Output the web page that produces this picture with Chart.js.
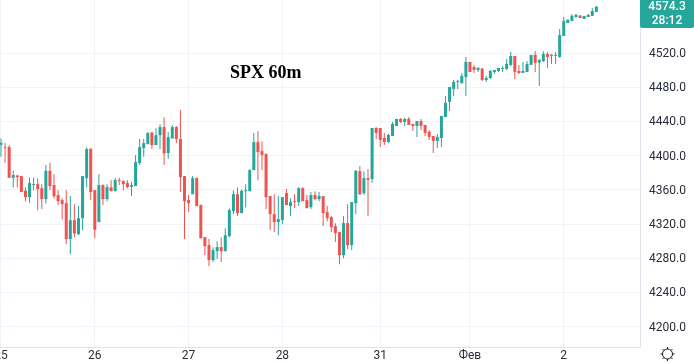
<!DOCTYPE html>
<html>
<head>
<meta charset="utf-8">
<title>SPX 60m</title>
<script src="https://cdn.jsdelivr.net/npm/chart.js@4"></script>
<style>
  html, body { margin: 0; padding: 0; background: #fff; }
  canvas { display: block; }
</style>
</head>
<body>
<canvas id="chart" width="694" height="363"></canvas>
<script>
const opens = [4412.7,4410,4410,4374.1,4376.9,4376.1,4358.9,4351.5,4365.6,4366.7,4362,4349.2,4382.3,4365.6,4353.9,4348,4344.5,4302.4,4324.6,4308.2,4326.9,4373.7,4408.1,4359.7,4322.3,4365.6,4349.2,4362.8,4358.5,4371.4,4370.2,4367.9,4363.6,4364.4,4391.3,4408.8,4413.5,4427.2,4412.4,4424,4433.4,4403,4420.2,4433.4,4419.4,4376.1,4348,4355,4373.7,4342.2,4304.7,4295.4,4277.8,4288.3,4293,4288.3,4305.9,4335.1,4355,4332.8,4358.5,4358.5,4383.1,4415.9,4405.3,4401.8,4352.7,4331.6,4322.3,4324.6,4356.2,4341,4346.8,4345.7,4362,4348,4339.8,4353.9,4349.2,4352.7,4334,4328.1,4317.6,4310.6,4283.7,4321.1,4295.4,4344.5,4381.9,4356.2,4373.7,4372.7,4432.4,4432.4,4420.7,4416,4423,4434.8,4443,4439.5,4443,4437.1,4434.8,4440.6,4436,4427.8,4423,4417.2,4420.7,4445.3,4462.9,4478,4486.3,4485,4492.1,4509.7,4503.8,4500.3,4501.9,4488.6,4490.9,4498,4499.1,4501.5,4501.5,4506.2,4516.7,4499.1,4496.8,4498,4506.2,4517.9,4508.9,4510.8,4519,4516.7,4517.9,4515.5,4540.1,4555.3,4557.6,4562.3,4563.9,4560,4562.3,4563.5,4568.2];
const highs = [4420.1,4415.1,4412.4,4382.3,4377.3,4376.1,4362.8,4374.5,4374.5,4373.4,4366.7,4389,4391.7,4378.4,4359.7,4350,4359.7,4352.7,4343.3,4341,4376.1,4410,4408.8,4359.7,4378.4,4366.7,4366.7,4371.4,4374.1,4374.1,4371.4,4371.4,4369.1,4400.7,4419.4,4419.4,4427.6,4427.2,4432.2,4436.9,4444.7,4427.6,4435.8,4434.6,4453.3,4376.1,4353.9,4376.1,4374.9,4343.3,4304.7,4302.4,4293,4300,4304.7,4315.2,4338.6,4359.7,4363.2,4360.5,4366.7,4384.3,4426.4,4428.7,4417,4403,4352.7,4355,4352.7,4351.5,4360.9,4350.3,4355,4363.2,4363.2,4353.9,4357.4,4358.5,4357.4,4352.7,4341,4329.3,4321.1,4310.6,4329.3,4343.3,4345.7,4383.1,4387.8,4381.9,4384.3,4432.4,4433.6,4432.4,4426.6,4425.4,4439.5,4443,4444.1,4444.1,4445.3,4437.1,4440.6,4443,4436,4430.1,4423,4425.4,4446.5,4469.9,4480.4,4488.6,4488.6,4496.8,4515.5,4509.7,4506.1,4503.8,4502.6,4493.3,4500.3,4500.3,4502.6,4505,4513.2,4521.4,4516.7,4506.2,4509.7,4510.8,4517.9,4522.5,4513.2,4522.1,4521.4,4519,4521.4,4548.3,4562.3,4560,4565.8,4565.8,4564.7,4563.5,4565.8,4572.8,4575.2];
const lows = [4398.7,4391.7,4374.1,4362.8,4362.8,4357.4,4346.8,4344.9,4359.7,4336.3,4337.5,4344.1,4359.7,4350,4342.2,4325.4,4296.5,4284.8,4304.7,4307,4312.9,4362.8,4348,4303.5,4322.3,4342.2,4346.8,4358.5,4358.5,4365.6,4359.7,4362,4352.7,4364.4,4389,4398.7,4413.5,4407.7,4412.4,4407.7,4389,4396,4420.2,4414.7,4357.4,4302.4,4334,4355,4341,4303.5,4283.7,4270.8,4275.5,4279,4275.5,4288.3,4304.7,4331.6,4329.3,4332.8,4339.4,4358.5,4383.1,4371.4,4383.1,4337.5,4312.9,4310.6,4307,4319.9,4342.2,4329.3,4338.6,4341,4346.8,4338.6,4337.5,4348,4346.8,4317.6,4323.4,4310.6,4298.9,4273.1,4280.1,4290.7,4289.5,4331.6,4353.9,4353.9,4329.3,4368.4,4419.6,4410.2,4412.6,4414.9,4423,4434.8,4438.3,4434.8,4436,4428.9,4421.9,4430.1,4423,4418.4,4403.2,4409,4410.2,4445.3,4452.3,4469.9,4478,4483.9,4469.9,4498,4496.8,4498,4487.4,4486.3,4489.8,4495.6,4498,4498,4500.3,4505,4489.8,4495.6,4496.8,4498,4506.2,4498,4481.6,4509.7,4502.6,4507.3,4507.3,4514.3,4540.1,4555.3,4557.6,4561.1,4561.1,4560,4562.3,4563.5,4568.2];
const closes = [4415.1,4409.2,4374.1,4377.3,4374.9,4357.4,4351.5,4367.9,4366.7,4360.9,4349.2,4382.3,4364.4,4352.7,4346.8,4343.3,4302.4,4324.6,4309,4326.9,4376.1,4407.7,4357.4,4313.3,4365.6,4349.2,4363.2,4358.5,4371.4,4370.2,4366.7,4363.2,4365.6,4392.5,4410,4414.7,4426.4,4412.4,4424,4433.4,4402.6,4421.7,4433.4,4419.4,4374.9,4346.8,4344.5,4373.7,4341,4303.5,4294.2,4277.8,4289.5,4293,4288.3,4307,4336.3,4355,4332.8,4358.9,4359.7,4383.1,4415.9,4404.2,4400.7,4351.5,4331.6,4322.3,4325.8,4351.5,4342.2,4345.7,4345.7,4362,4346.8,4338.6,4353.9,4349.2,4352.7,4332.8,4326.9,4316.4,4309.4,4283.7,4321.1,4295.4,4345.7,4382.3,4355,4373.7,4371.8,4432.4,4426.6,4418.4,4416,4424.2,4437.1,4443,4439.5,4443,4436,4434.8,4440.6,4434.8,4426.6,4421.9,4417.2,4421.9,4446.5,4461.7,4480.4,4486.3,4487.4,4493.3,4509.7,4498,4500.3,4502.6,4488.6,4490.9,4499.1,4500.3,4502.6,4502.6,4507.3,4516.7,4498,4496.8,4499.1,4507.3,4517.9,4508.5,4512,4519,4515.5,4517.9,4516.7,4541.2,4557.6,4558.8,4563.5,4564.7,4561.1,4563.5,4564.7,4569.3,4574.3];

const candleIndex = opens.map((_, i) => i);
const dayTicks = [0, 23, 46, 69, 93, 115, 138];
const dayLabels = ["25", "26", "27", "28", "31", "Фев", "2"];
const priceTicks = [4200, 4240, 4280, 4320, 4360, 4400, 4440, 4480, 4520];
const lastPrice = "4574.3";
const countdown = "28:12";

const UP = "#26a69a";
const DOWN = "#ef5350";
const candleColors = opens.map((o, i) => (closes[i] >= o ? UP : DOWN));

// title, last price tag and the settings icon are not part of the scales
const overlay = {
  id: "overlay",
  afterDraw(chart) {
    const ctx = chart.ctx;
    const a = chart.chartArea;
    ctx.save();
    ctx.fillStyle = "#000";
    ctx.font = "bold 18px 'Liberation Serif'";
    ctx.textAlign = "left";
    ctx.textBaseline = "middle";
    ctx.fillText("SPX 60m", 230, 73);

    ctx.fillStyle = UP;
    ctx.beginPath();
    ctx.roundRect(a.right, -4, 54, 32, 2);
    ctx.fill();
    ctx.fillStyle = "#fff";
    ctx.font = "500 12px Roboto";
    ctx.textAlign = "center";
    ctx.fillText(lastPrice, a.right + 27, 7);
    ctx.fillText(countdown, a.right + 27, 21);

    // sun icon
    const cx = 667.5, cy = 354;
    ctx.strokeStyle = "#131722";
    ctx.lineWidth = 1;
    ctx.beginPath();
    ctx.arc(cx, cy, 5, 0, Math.PI * 2);
    for (let i = 0; i < 8; i++) {
      const t = (i * Math.PI) / 4;
      ctx.moveTo(cx + Math.cos(t) * 5, cy + Math.sin(t) * 5);
      ctx.lineTo(cx + Math.cos(t) * 7, cy + Math.sin(t) * 7);
    }
    ctx.stroke();
    ctx.restore();
  },
};

new Chart(document.getElementById("chart"), {
  type: "bar",
  data: {
    labels: candleIndex,
    datasets: [
      {
        label: "body",
        data: opens.map((o, i) => [o, closes[i]]),
        backgroundColor: candleColors,
        barThickness: 3,
        inflateAmount: 0,
        grouped: false,
      },
      {
        label: "wick",
        data: lows.map((l, i) => [l, highs[i]]),
        backgroundColor: candleColors,
        barThickness: 1,
        inflateAmount: 0,
        grouped: false,
      },
    ],
  },
  options: {
    responsive: false,
    animation: false,
    layout: { padding: 0 },
    plugins: { legend: { display: false }, tooltip: { enabled: false } },
    scales: {
      x: {
        type: "linear",
        offset: false,
        min: -0.245,
        max: 156.7,
        afterBuildTicks: (scale) => {
          scale.ticks = dayTicks.map((value) => ({ value }));
        },
        afterFit: (scale) => {
          scale.height = 16;
          scale.paddingLeft = 0;
          scale.paddingRight = 0;
        },
        grid: { offset: false, color: "#f0f3fa", drawTicks: false },
        border: { color: "#e0e3eb" },
        ticks: {
          autoSkip: false,
          maxRotation: 0,
          padding: 2,
          color: "#2a2e39",
          font: { family: "Roboto", size: 12 },
          callback: (value) => dayLabels[dayTicks.indexOf(value)],
        },
      },
      y: {
        position: "right",
        min: 4176.2,
        max: 4582.1,
        afterBuildTicks: (scale) => {
          scale.ticks = priceTicks.map((value) => ({ value }));
        },
        afterFit: (scale) => {
          scale.width = 54;
          scale.paddingTop = 0;
          scale.paddingBottom = 0;
        },
        grid: { color: "#f0f3fa", drawTicks: false },
        border: { color: "#e0e3eb" },
        ticks: {
          padding: 9,
          labelOffset: 1,
          color: "#2a2e39",
          font: { family: "Roboto", size: 12 },
          callback: (value) => value.toFixed(1),
        },
      },
    },
  },
  plugins: [overlay],
});
</script>
</body>
</html>
